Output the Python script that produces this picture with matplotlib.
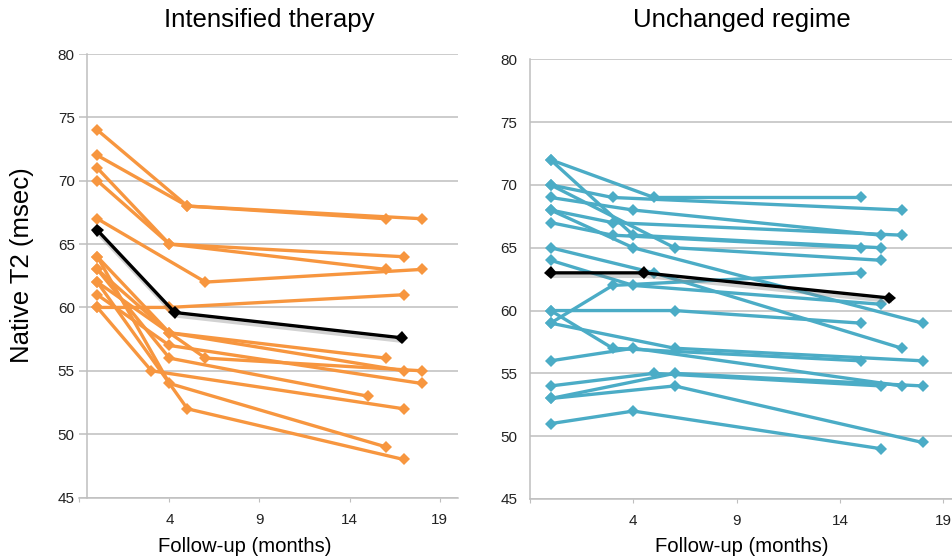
import matplotlib
matplotlib.use("Agg")
import matplotlib.pyplot as plt
import matplotlib.patheffects as pe

plt.rcParams['font.family'] = ['Liberation Sans', 'DejaVu Sans']

# ---------------- data ----------------
titles = ["Intensified therapy", "Unchanged regime"]
ylabel = "Native T2 (msec)"
xlabel = "Follow-up (months)"
xtick_vals = [-1, 4, 9, 14, 19]
xtick_labels = ["", "4", "9", "14", "19"]
ytick_vals = [45, 50, 55, 60, 65, 70, 75, 80]

left_months = [
    [0, 5, 16], [0, 5, 18], [0, 4, 17], [0, 4, 16], [0, 6, 18],
    [0, 4, 17], [0, 4, 16], [0, 4, 17], [0, 4, 18], [0, 6, 18],
    [0, 4, 15], [0, 3, 17], [0, 4, 16], [0, 5, 17],
]
left_values = [
    [74, 68, 67], [72, 68, 67], [71, 65, 64], [70, 65, 63], [67, 62, 63],
    [60, 60, 61], [64, 58, 56], [63, 58, 55], [61, 57, 54], [62, 56, 55],
    [63, 56, 53], [60, 55, 52], [64, 54, 49], [62, 52, 48],
]
left_mean_months = [0, 4.3, 16.9]
left_mean_values = [66.1, 59.6, 57.6]

right_months = [
    [0, 5, 15], [0, 4, 16], [0, 3, 17], [0, 6, 16], [0, 4, 16],
    [0, 3, 17], [0, 4, 18], [0, 3, 15], [0, 5, 17], [0, 4, 16],
    [0, 3, 15], [0, 6, 15], [0, 3, 15], [0, 6, 18], [0, 4, 17],
    [0, 5, 16], [0, 6, 18], [0, 6, 18], [0, 4, 16],
]
right_values = [
    [72, 69, 69], [72, 66, 65], [70, 69, 68], [70, 65, 64], [69, 68, 66],
    [68, 67, 66], [68, 65, 59], [67, 66, 65], [65, 63, 57], [64, 62, 60.5],
    [59, 62, 63], [60, 60, 59], [60, 57, 56], [59, 57, 56], [56, 57, 54],
    [54, 55, 54], [53, 55, 54], [53, 54, 49.5], [51, 52, 49],
]
right_mean_months = [0, 4.5, 16.4]
right_mean_values = [63, 63, 61]

orange = "#F7963F"
blue = "#4BACC6"
grid_c = "#BFBFBF"

W, H = 953, 560
fig = plt.figure(figsize=(W / 100, H / 100), dpi=100)

def px_axes(x0, x1, ytop, ybot):
    return fig.add_axes([x0 / W, 1 - ybot / H, (x1 - x0) / W, (ybot - ytop) / H])

axL = px_axes(79.3, 457.7, 54, 497.5)
axR = px_axes(530, 953.5, 59.3, 499)

panels = [
    (axL, left_months, left_values, left_mean_months, left_mean_values, orange, (-1, 20), -0.556),
    (axR, right_months, right_values, right_mean_months, right_mean_values, blue, (-1, 19.5), -1),
]

for ax, months, values, mm, mv, col, xl, spine_x in panels:
    ax.set_xlim(*xl)
    ax.set_ylim(45, 80)
    ax.set_yticks(ytick_vals)
    ax.set_xticks(xtick_vals)
    ax.set_xticklabels(xtick_labels)
    ax.grid(axis='y', color=grid_c, linewidth=1.1)
    ax.set_axisbelow(True)
    for s in ['top', 'right']:
        ax.spines[s].set_visible(False)
    ax.spines['left'].set_position(('data', spine_x))
    ax.spines['left'].set_color(grid_c)
    ax.spines['left'].set_linewidth(1.1)
    ax.spines['bottom'].set_color(grid_c)
    ax.spines['bottom'].set_linewidth(1.1)
    ax.tick_params(axis='y', length=0, pad=9, labelsize=11, labelcolor='#222222')
    ax.tick_params(axis='x', length=3, color=grid_c, pad=8, labelsize=11, labelcolor='#222222')
    for m, v in zip(months, values):
        ax.plot(m, v, color=col, linewidth=2.4, marker='D', markersize=6.6,
                markeredgewidth=0, solid_joinstyle='round', clip_on=False)
    ax.plot(mm, mv, color='black', linewidth=2.4, marker='D', markersize=6.6,
            markeredgewidth=0, zorder=5,
            path_effects=[pe.SimpleLineShadow(offset=(0.5, -2.5), shadow_color='gray', alpha=0.35),
                          pe.Normal()])

fig.text(269 / W, 1 - 20 / H, titles[0], ha='center', va='center', fontsize=18.5)
fig.text(741.5 / W, 1 - 20 / H, titles[1], ha='center', va='center', fontsize=18.5)
fig.text(245 / W, 1 - 546.7 / H, xlabel, ha='center', va='center', fontsize=14.6)
fig.text(741.5 / W, 1 - 546.7 / H, xlabel, ha='center', va='center', fontsize=14.6)
fig.text(22 / W, 1 - 265 / H, ylabel, ha='center', va='center', rotation=90, fontsize=18.5)

fig.savefig("out.png", dpi=100)
